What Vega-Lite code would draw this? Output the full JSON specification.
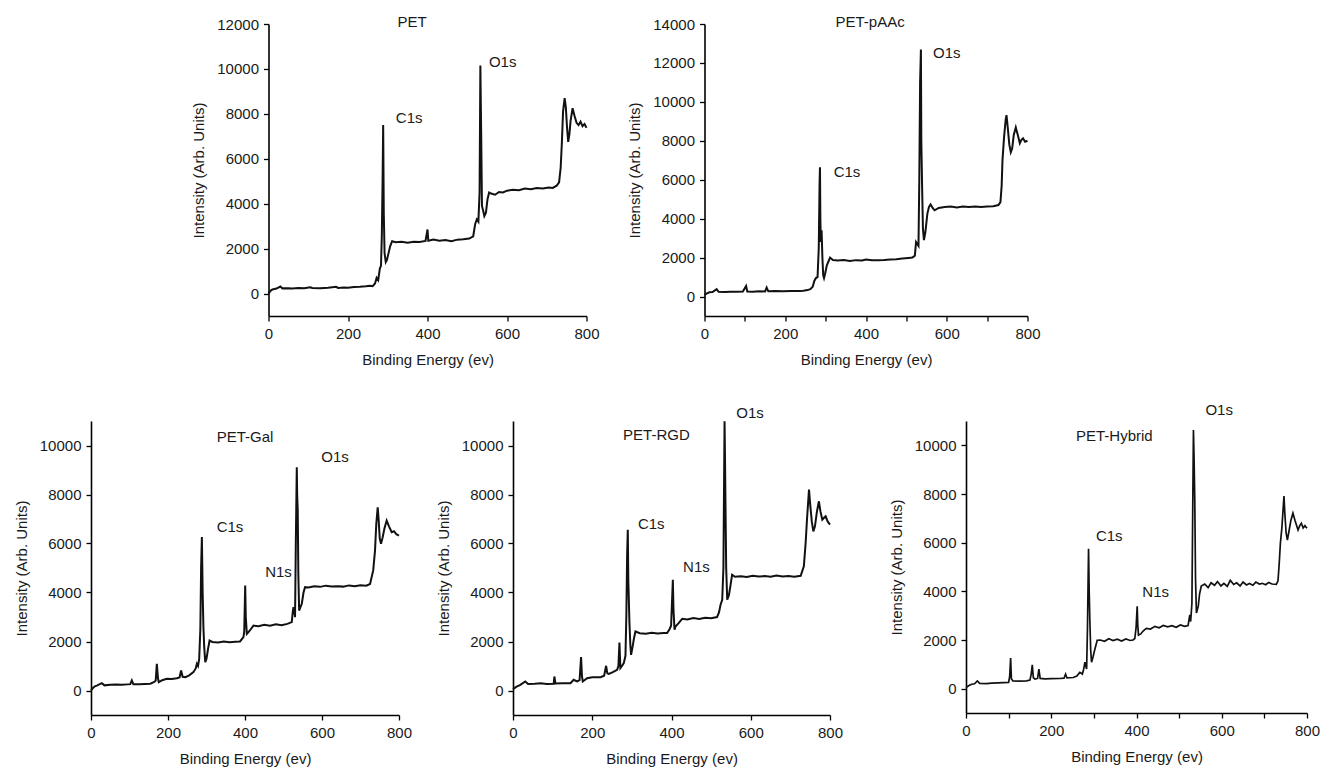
{
"$schema": "https://vega.github.io/schema/vega-lite/v6.json",
"padding": {"left": 14, "top": 14, "right": 5, "bottom": 5},
"background": "white",
"config": {
 "view": {"stroke": null},
 "axis": {"grid": false, "domainColor": "#000", "domainWidth": 1.6, "tickColor": "#000", "tickWidth": 1.3, "tickSize": 5, "labelFont": "Liberation Sans", "labelFontSize": 15, "labelColor": "#1a1a1a", "titleFont": "Liberation Sans", "titleFontSize": 15, "titleFontWeight": "normal", "titleColor": "#1a1a1a", "labelPadding": 5, "labelFlush": false, "labelOverlap": false},
 "axisY": {"titlePadding": 10},
 "axisX": {"titlePadding": 11},
 "text": {"font": "Liberation Sans", "fontSize": 15, "color": "#1a1a1a"}
},
"datasets": {
 "labels": [
  {"s":"PET","t":"PET","x":361,"y":12110},
  {"s":"PET","t":"C1s","x":354,"y":7800},
  {"s":"PET","t":"O1s","x":589,"y":10300},
  {"s":"PET-pAAc","t":"PET-pAAc","x":410,"y":14100},
  {"s":"PET-pAAc","t":"C1s","x":353,"y":6390},
  {"s":"PET-pAAc","t":"O1s","x":600,"y":12520},
  {"s":"PET-Gal","t":"PET-Gal","x":400,"y":10340},
  {"s":"PET-Gal","t":"C1s","x":361,"y":6670},
  {"s":"PET-Gal","t":"N1s","x":487,"y":4830},
  {"s":"PET-Gal","t":"O1s","x":634,"y":9550},
  {"s":"PET-RGD","t":"PET-RGD","x":362,"y":10420},
  {"s":"PET-RGD","t":"C1s","x":349,"y":6810},
  {"s":"PET-RGD","t":"N1s","x":463,"y":5040},
  {"s":"PET-RGD","t":"O1s","x":598,"y":11340},
  {"s":"PET-Hybrid","t":"PET-Hybrid","x":348,"y":10390},
  {"s":"PET-Hybrid","t":"C1s","x":336,"y":6270},
  {"s":"PET-Hybrid","t":"N1s","x":445,"y":3970},
  {"s":"PET-Hybrid","t":"O1s","x":594,"y":11460}
 ],
 "pet": [
  {"x":0,"y":0},{"x":5,"y":120},{"x":10,"y":180},{"x":20,"y":220},{"x":30,"y":310},{"x":35,"y":230},{"x":50,"y":240},{"x":60,"y":220},{"x":75,"y":250},{"x":90,"y":240},{"x":105,"y":280},{"x":110,"y":250},{"x":130,"y":240},{"x":150,"y":260},{"x":170,"y":300},{"x":175,"y":250},{"x":190,"y":270},{"x":200,"y":260},{"x":215,"y":290},{"x":230,"y":300},{"x":245,"y":320},{"x":255,"y":350},{"x":262,"y":330},{"x":268,"y":450},{"x":272,"y":700},{"x":276,"y":600},{"x":280,"y":1100},{"x":283,"y":1250},{"x":285,"y":2500},{"x":287,"y":5000},{"x":288.5,"y":7500},{"x":290,"y":3600},{"x":292,"y":1800},{"x":295,"y":1400},{"x":298,"y":1500},{"x":302,"y":1800},{"x":306,"y":2100},{"x":311,"y":2330},{"x":320,"y":2280},{"x":335,"y":2300},{"x":350,"y":2260},{"x":365,"y":2310},{"x":380,"y":2290},{"x":395,"y":2340},{"x":400,"y":2850},{"x":402,"y":2350},{"x":415,"y":2400},{"x":430,"y":2350},{"x":445,"y":2380},{"x":460,"y":2330},{"x":475,"y":2400},{"x":490,"y":2420},{"x":505,"y":2450},{"x":515,"y":2550},{"x":520,"y":3100},{"x":524,"y":3300},{"x":528,"y":3200},{"x":531,"y":4500},{"x":533,"y":10150},{"x":535,"y":7200},{"x":537,"y":3900},{"x":540,"y":3700},{"x":543,"y":3450},{"x":547,"y":3600},{"x":551,"y":4200},{"x":555,"y":4500},{"x":560,"y":4450},{"x":570,"y":4400},{"x":580,"y":4520},{"x":590,"y":4500},{"x":600,"y":4580},{"x":615,"y":4620},{"x":630,"y":4600},{"x":645,"y":4680},{"x":660,"y":4640},{"x":675,"y":4700},{"x":690,"y":4680},{"x":705,"y":4720},{"x":715,"y":4700},{"x":725,"y":4800},{"x":731,"y":4950},{"x":735,"y":5600},{"x":738,"y":6700},{"x":741,"y":8100},{"x":745,"y":8700},{"x":748,"y":8300},{"x":751,"y":7400},{"x":754,"y":6750},{"x":757,"y":7100},{"x":760,"y":7700},{"x":765,"y":8250},{"x":770,"y":7900},{"x":775,"y":7600},{"x":780,"y":7500},{"x":785,"y":7650},{"x":790,"y":7450},{"x":795,"y":7550},{"x":800,"y":7380}
 ],
 "paac": [
  {"x":0,"y":90},{"x":5,"y":150},{"x":12,"y":220},{"x":20,"y":230},{"x":30,"y":380},{"x":35,"y":240},{"x":50,"y":230},{"x":65,"y":250},{"x":80,"y":240},{"x":95,"y":260},{"x":103,"y":540},{"x":106,"y":260},{"x":120,"y":250},{"x":135,"y":270},{"x":150,"y":260},{"x":154,"y":460},{"x":158,"y":270},{"x":175,"y":280},{"x":195,"y":270},{"x":215,"y":290},{"x":235,"y":280},{"x":245,"y":300},{"x":255,"y":330},{"x":262,"y":380},{"x":268,"y":500},{"x":272,"y":800},{"x":276,"y":950},{"x":280,"y":1000},{"x":283,"y":2500},{"x":285,"y":5800},{"x":286,"y":6640},{"x":287,"y":4000},{"x":288,"y":2800},{"x":290,"y":3400},{"x":292,"y":2000},{"x":294,"y":1100},{"x":296,"y":950},{"x":299,"y":1200},{"x":303,"y":1600},{"x":307,"y":1800},{"x":311,"y":2000},{"x":318,"y":1880},{"x":330,"y":1850},{"x":345,"y":1880},{"x":360,"y":1830},{"x":375,"y":1870},{"x":390,"y":1850},{"x":400,"y":1900},{"x":415,"y":1860},{"x":430,"y":1870},{"x":445,"y":1880},{"x":460,"y":1900},{"x":475,"y":1920},{"x":490,"y":1950},{"x":505,"y":1980},{"x":515,"y":2000},{"x":521,"y":2100},{"x":524,"y":2800},{"x":527,"y":2700},{"x":530,"y":2600},{"x":532,"y":6000},{"x":534,"y":11000},{"x":536,"y":12690},{"x":537,"y":8000},{"x":539,"y":5620},{"x":541,"y":3500},{"x":543.5,"y":2900},{"x":547,"y":3300},{"x":552,"y":4260},{"x":556,"y":4600},{"x":560,"y":4730},{"x":565,"y":4550},{"x":570,"y":4430},{"x":580,"y":4550},{"x":595,"y":4600},{"x":610,"y":4620},{"x":625,"y":4580},{"x":640,"y":4620},{"x":655,"y":4600},{"x":670,"y":4630},{"x":685,"y":4600},{"x":700,"y":4620},{"x":715,"y":4640},{"x":728,"y":4700},{"x":733,"y":4850},{"x":736,"y":5700},{"x":738,"y":6980},{"x":742,"y":8200},{"x":746,"y":9100},{"x":748,"y":9315},{"x":751,"y":8700},{"x":755,"y":7800},{"x":758.7,"y":7410},{"x":762,"y":7600},{"x":766,"y":8300},{"x":771,"y":8685},{"x":776,"y":8300},{"x":781,"y":7870},{"x":785,"y":8050},{"x":789,"y":8130},{"x":794,"y":7950},{"x":800,"y":8000}
 ],
 "gal": [
  {"x":0,"y":0},{"x":5,"y":100},{"x":10,"y":170},{"x":15,"y":200},{"x":28,"y":300},{"x":35,"y":210},{"x":50,"y":230},{"x":65,"y":240},{"x":80,"y":230},{"x":95,"y":250},{"x":102,"y":260},{"x":106,"y":410},{"x":110,"y":260},{"x":125,"y":260},{"x":140,"y":270},{"x":154,"y":280},{"x":163,"y":340},{"x":168,"y":400},{"x":171,"y":1090},{"x":174,"y":500},{"x":176,"y":340},{"x":185,"y":420},{"x":197,"y":476},{"x":210,"y":470},{"x":223,"y":500},{"x":230,"y":530},{"x":234,"y":816},{"x":238,"y":560},{"x":245,"y":544},{"x":255,"y":620},{"x":266,"y":748},{"x":272,"y":900},{"x":275,"y":1090},{"x":278,"y":1000},{"x":281,"y":1290},{"x":284,"y":2500},{"x":286,"y":5000},{"x":288,"y":6260},{"x":290,"y":4000},{"x":292,"y":2585},{"x":294,"y":1800},{"x":296.7,"y":1156},{"x":300,"y":1300},{"x":304,"y":1700},{"x":308,"y":2040},{"x":315,"y":1980},{"x":330,"y":1960},{"x":345,"y":2000},{"x":360,"y":1970},{"x":375,"y":1990},{"x":387,"y":2000},{"x":396,"y":2176},{"x":398,"y":2400},{"x":400.5,"y":4285},{"x":402,"y":3000},{"x":404.8,"y":2310},{"x":409,"y":2380},{"x":415,"y":2500},{"x":422,"y":2650},{"x":435,"y":2620},{"x":450,"y":2680},{"x":465,"y":2640},{"x":480,"y":2700},{"x":495,"y":2660},{"x":510,"y":2720},{"x":521.5,"y":2790},{"x":524,"y":3200},{"x":526,"y":3400},{"x":528,"y":3300},{"x":530,"y":2990},{"x":532,"y":6000},{"x":534.5,"y":9110},{"x":535.5,"y":8000},{"x":537,"y":7340},{"x":538.5,"y":4800},{"x":540.6,"y":3265},{"x":544,"y":3400},{"x":547.5,"y":3540},{"x":552,"y":4000},{"x":556,"y":4216},{"x":565,"y":4200},{"x":580,"y":4250},{"x":595,"y":4230},{"x":610,"y":4280},{"x":625,"y":4250},{"x":640,"y":4260},{"x":655,"y":4240},{"x":670,"y":4290},{"x":685,"y":4260},{"x":700,"y":4300},{"x":715,"y":4280},{"x":724.8,"y":4350},{"x":733,"y":4900},{"x":737.7,"y":5710},{"x":741,"y":6800},{"x":744.7,"y":7480},{"x":747,"y":7000},{"x":750,"y":6200},{"x":753.3,"y":5985},{"x":757.6,"y":6256},{"x":762,"y":6600},{"x":768,"y":6936},{"x":774,"y":6700},{"x":781,"y":6460},{"x":787,"y":6500},{"x":793,"y":6380},{"x":800,"y":6325}
 ],
 "rgd": [
  {"x":0,"y":55},{"x":8,"y":150},{"x":18.5,"y":230},{"x":31,"y":368},{"x":38,"y":270},{"x":55,"y":280},{"x":70,"y":300},{"x":85,"y":270},{"x":102.7,"y":272},{"x":104.4,"y":572},{"x":107,"y":290},{"x":125,"y":300},{"x":145,"y":300},{"x":153,"y":436},{"x":161.7,"y":368},{"x":168,"y":420},{"x":171.8,"y":1362},{"x":174,"y":600},{"x":176,"y":368},{"x":187,"y":504},{"x":200,"y":540},{"x":220.6,"y":545},{"x":230,"y":600},{"x":235,"y":1008},{"x":238,"y":700},{"x":241.7,"y":681},{"x":252,"y":750},{"x":262.7,"y":845},{"x":266,"y":1000},{"x":268.6,"y":1961},{"x":271,"y":912},{"x":275,"y":1000},{"x":279.6,"y":1117},{"x":283.8,"y":1416},{"x":286,"y":3000},{"x":288,"y":5500},{"x":289.7,"y":6565},{"x":291,"y":4500},{"x":293.9,"y":2751},{"x":296,"y":1900},{"x":298,"y":1457},{"x":302,"y":1800},{"x":305,"y":2100},{"x":309,"y":2410},{"x":320,"y":2340},{"x":335,"y":2320},{"x":350,"y":2360},{"x":365,"y":2330},{"x":380,"y":2350},{"x":389,"y":2343},{"x":395,"y":2500},{"x":399,"y":2642},{"x":401,"y":3500},{"x":403.4,"y":4522},{"x":405,"y":3300},{"x":407.6,"y":2479},{"x":410,"y":2615},{"x":418,"y":2750},{"x":427,"y":2928},{"x":440,"y":2900},{"x":455,"y":2960},{"x":470,"y":2920},{"x":485,"y":2970},{"x":500,"y":2950},{"x":515,"y":2996},{"x":520,"y":3200},{"x":523.8,"y":3500},{"x":528,"y":3704},{"x":531,"y":5000},{"x":533.9,"y":10991},{"x":535,"y":9500},{"x":536.4,"y":7382},{"x":538,"y":5000},{"x":540.6,"y":3704},{"x":545,"y":3900},{"x":549,"y":4300},{"x":553,"y":4726},{"x":560,"y":4640},{"x":575,"y":4660},{"x":590,"y":4630},{"x":605,"y":4680},{"x":620,"y":4650},{"x":635,"y":4670},{"x":650,"y":4640},{"x":665,"y":4690},{"x":680,"y":4650},{"x":695,"y":4670},{"x":710,"y":4640},{"x":726,"y":4680},{"x":734,"y":5066},{"x":738.5,"y":6020},{"x":742,"y":7000},{"x":747,"y":8200},{"x":750,"y":7600},{"x":754,"y":6900},{"x":758,"y":6497},{"x":762,"y":6700},{"x":767,"y":7300},{"x":772,"y":7723},{"x":776,"y":7300},{"x":780.6,"y":6974},{"x":785,"y":7050},{"x":789,"y":7110},{"x":794,"y":6900},{"x":800,"y":6770}
 ],
 "hyb": [
  {"x":0,"y":42},{"x":6,"y":120},{"x":13,"y":181},{"x":20,"y":200},{"x":26.6,"y":320},{"x":32,"y":220},{"x":48,"y":209},{"x":60,"y":230},{"x":75,"y":240},{"x":87.5,"y":250},{"x":100,"y":260},{"x":102.5,"y":500},{"x":104.7,"y":1254},{"x":106.5,"y":400},{"x":110,"y":320},{"x":125,"y":310},{"x":142,"y":320},{"x":150,"y":350},{"x":153,"y":600},{"x":155.5,"y":975},{"x":158,"y":450},{"x":162,"y":390},{"x":168,"y":420},{"x":171,"y":808},{"x":174,"y":420},{"x":185,"y":400},{"x":200,"y":410},{"x":220,"y":418},{"x":230,"y":430},{"x":233.6,"y":600},{"x":237,"y":440},{"x":251.6,"y":460},{"x":260,"y":520},{"x":267,"y":669},{"x":273,"y":600},{"x":276,"y":800},{"x":279,"y":1087},{"x":283,"y":808},{"x":285,"y":2500},{"x":287.5,"y":5753},{"x":289,"y":4000},{"x":290.6,"y":2758},{"x":292.5,"y":1600},{"x":294.5,"y":1087},{"x":298,"y":1300},{"x":302,"y":1600},{"x":307.8,"y":1992},{"x":315,"y":2000},{"x":325,"y":1950},{"x":335,"y":2050},{"x":345,"y":1980},{"x":355,"y":2030},{"x":365,"y":1960},{"x":375,"y":2040},{"x":385,"y":1980},{"x":392,"y":2000},{"x":396,"y":2062},{"x":399,"y":2500},{"x":401.6,"y":3385},{"x":403,"y":2600},{"x":404.7,"y":2200},{"x":410,"y":2250},{"x":416,"y":2380},{"x":423,"y":2480},{"x":433,"y":2450},{"x":443,"y":2560},{"x":453,"y":2500},{"x":463,"y":2600},{"x":473,"y":2540},{"x":483,"y":2590},{"x":493,"y":2520},{"x":503,"y":2620},{"x":513,"y":2560},{"x":521,"y":2591},{"x":525,"y":3037},{"x":527,"y":2758},{"x":530,"y":3500},{"x":532,"y":7500},{"x":533.6,"y":10629},{"x":535,"y":9500},{"x":536.7,"y":7773},{"x":538.5,"y":4500},{"x":540.6,"y":3106},{"x":545,"y":3400},{"x":548,"y":3900},{"x":552,"y":4220},{"x":560,"y":4300},{"x":568,"y":4150},{"x":575,"y":4350},{"x":583,"y":4250},{"x":590,"y":4400},{"x":598,"y":4220},{"x":605,"y":4330},{"x":613,"y":4200},{"x":620,"y":4450},{"x":628,"y":4280},{"x":635,"y":4350},{"x":643,"y":4220},{"x":650,"y":4380},{"x":658,"y":4260},{"x":665,"y":4320},{"x":673,"y":4250},{"x":680,"y":4380},{"x":688,"y":4300},{"x":695,"y":4330},{"x":703,"y":4270},{"x":710,"y":4360},{"x":718,"y":4300},{"x":728,"y":4290},{"x":732,"y":4430},{"x":735,"y":5200},{"x":737.5,"y":5962},{"x":741,"y":6600},{"x":746,"y":7912},{"x":748,"y":7200},{"x":751,"y":6400},{"x":754,"y":6101},{"x":758,"y":6500},{"x":762,"y":6900},{"x":767,"y":7216},{"x":772,"y":6900},{"x":779,"y":6520},{"x":783,"y":6700},{"x":786.7,"y":6798},{"x":791,"y":6600},{"x":795,"y":6700},{"x":800,"y":6589}
 ],
 "spacer": [{"x": 0}]
},
"spacing": 35,
"vconcat": [
 {
  "bounds": "flush",
  "spacing": 56.5,
  "hconcat": [
   {"width": 120.5, "height": 292, "data": {"name": "spacer"}, "mark": {"type": "point", "opacity": 0},
    "encoding": {"x": {"field": "x", "type": "quantitative", "axis": null}, "y": {"field": "x", "type": "quantitative", "axis": null}}},
   {"width": 318, "height": 292, "layer": [
     {"data": {"name": "pet"}, "mark": {"type": "line", "color": "#111", "strokeWidth": 2},
      "encoding": {
       "x": {"field": "x", "type": "quantitative", "scale": {"domain": [0, 800], "nice": false}, "axis": {"title": "Binding Energy (ev)", "values": [0,100,200,300,400,500,600,700,800], "labelExpr": "datum.value % 200 == 0 ? datum.label : ''"}},
       "y": {"field": "y", "type": "quantitative", "scale": {"domain": [-1000, 12000], "nice": false}, "axis": {"title": "Intensity (Arb. Units)", "format": "d", "values": [0,1000,2000,3000,4000,5000,6000,7000,8000,9000,10000,11000,12000], "labelExpr": "datum.value % 2000 == 0 ? datum.label : ''"}}}},
     {"data": {"name": "labels"}, "transform": [{"filter": "datum.s == 'PET'"}], "mark": {"type": "text", "align": "center", "baseline": "middle"},
      "encoding": {"x": {"field": "x", "type": "quantitative"}, "y": {"field": "y", "type": "quantitative"}, "text": {"field": "t"}}}
   ]},
   {"width": 5, "height": 292, "data": {"name": "spacer"}, "mark": {"type": "point", "opacity": 0},
    "encoding": {"x": {"field": "x", "type": "quantitative", "axis": null}, "y": {"field": "x", "type": "quantitative", "axis": null}}},
   {"width": 323, "height": 292, "layer": [
     {"data": {"name": "paac"}, "mark": {"type": "line", "color": "#111", "strokeWidth": 2},
      "encoding": {
       "x": {"field": "x", "type": "quantitative", "scale": {"domain": [0, 800], "nice": false}, "axis": {"title": "Binding Energy (ev)", "values": [0,100,200,300,400,500,600,700,800], "labelExpr": "datum.value % 200 == 0 ? datum.label : ''"}},
       "y": {"field": "y", "type": "quantitative", "scale": {"domain": [-1000, 14000], "nice": false}, "axis": {"title": "Intensity (Arb. Units)", "format": "d", "values": [0,1000,2000,3000,4000,5000,6000,7000,8000,9000,10000,11000,12000,13000,14000], "labelExpr": "datum.value % 2000 == 0 ? datum.label : ''"}}}},
     {"data": {"name": "labels"}, "transform": [{"filter": "datum.s == 'PET-pAAc'"}], "mark": {"type": "text", "align": "center", "baseline": "middle"},
      "encoding": {"x": {"field": "x", "type": "quantitative"}, "y": {"field": "y", "type": "quantitative"}, "text": {"field": "t"}}}
   ]}
  ]
 },
 {
  "bounds": "flush",
  "spacing": 56.5,
  "hconcat": [
   {"width": 308, "height": 294, "layer": [
     {"data": {"name": "gal"}, "mark": {"type": "line", "color": "#111", "strokeWidth": 2},
      "encoding": {
       "x": {"field": "x", "type": "quantitative", "scale": {"domain": [0, 800], "nice": false}, "axis": {"title": "Binding Energy (ev)", "values": [0,100,200,300,400,500,600,700,800], "labelExpr": "datum.value % 200 == 0 ? datum.label : ''"}},
       "y": {"field": "y", "type": "quantitative", "scale": {"domain": [-1000, 11000], "nice": false}, "axis": {"title": "Intensity (Arb. Units)", "format": "d", "values": [0,1000,2000,3000,4000,5000,6000,7000,8000,9000,10000], "labelExpr": "datum.value % 2000 == 0 ? datum.label : ''"}}}},
     {"data": {"name": "labels"}, "transform": [{"filter": "datum.s == 'PET-Gal'"}], "mark": {"type": "text", "align": "center", "baseline": "middle"},
      "encoding": {"x": {"field": "x", "type": "quantitative"}, "y": {"field": "y", "type": "quantitative"}, "text": {"field": "t"}}}
   ]},
   {"width": 1, "height": 294, "data": {"name": "spacer"}, "mark": {"type": "point", "opacity": 0},
    "encoding": {"x": {"field": "x", "type": "quantitative", "axis": null}, "y": {"field": "x", "type": "quantitative", "axis": null}}},
   {"width": 317, "height": 294, "layer": [
     {"data": {"name": "rgd"}, "mark": {"type": "line", "color": "#111", "strokeWidth": 2},
      "encoding": {
       "x": {"field": "x", "type": "quantitative", "scale": {"domain": [0, 800], "nice": false}, "axis": {"title": "Binding Energy (ev)", "values": [0,100,200,300,400,500,600,700,800], "labelExpr": "datum.value % 200 == 0 ? datum.label : ''"}},
       "y": {"field": "y", "type": "quantitative", "scale": {"domain": [-1000, 11000], "nice": false}, "axis": {"title": "Intensity (Arb. Units)", "format": "d", "values": [0,1000,2000,3000,4000,5000,6000,7000,8000,9000,10000], "labelExpr": "datum.value % 2000 == 0 ? datum.label : ''"}}}},
     {"data": {"name": "labels"}, "transform": [{"filter": "datum.s == 'PET-RGD'"}], "mark": {"type": "text", "align": "center", "baseline": "middle"},
      "encoding": {"x": {"field": "x", "type": "quantitative"}, "y": {"field": "y", "type": "quantitative"}, "text": {"field": "t"}}}
   ]},
   {"width": 23, "height": 294, "data": {"name": "spacer"}, "mark": {"type": "point", "opacity": 0},
    "encoding": {"x": {"field": "x", "type": "quantitative", "axis": null}, "y": {"field": "x", "type": "quantitative", "axis": null}}},
   {"width": 341, "height": 292, "layer": [
     {"data": {"name": "hyb"}, "mark": {"type": "line", "color": "#111", "strokeWidth": 1.7},
      "encoding": {
       "x": {"field": "x", "type": "quantitative", "scale": {"domain": [0, 800], "nice": false}, "axis": {"title": "Binding Energy (ev)", "values": [0,100,200,300,400,500,600,700,800], "labelExpr": "datum.value % 200 == 0 ? datum.label : ''"}},
       "y": {"field": "y", "type": "quantitative", "scale": {"domain": [-1000, 11000], "nice": false}, "axis": {"title": "Intensity (Arb. Units)", "format": "d", "values": [0,1000,2000,3000,4000,5000,6000,7000,8000,9000,10000], "labelExpr": "datum.value % 2000 == 0 ? datum.label : ''"}}}},
     {"data": {"name": "labels"}, "transform": [{"filter": "datum.s == 'PET-Hybrid'"}], "mark": {"type": "text", "align": "center", "baseline": "middle"},
      "encoding": {"x": {"field": "x", "type": "quantitative"}, "y": {"field": "y", "type": "quantitative"}, "text": {"field": "t"}}}
   ]}
  ]
 }
]
}
